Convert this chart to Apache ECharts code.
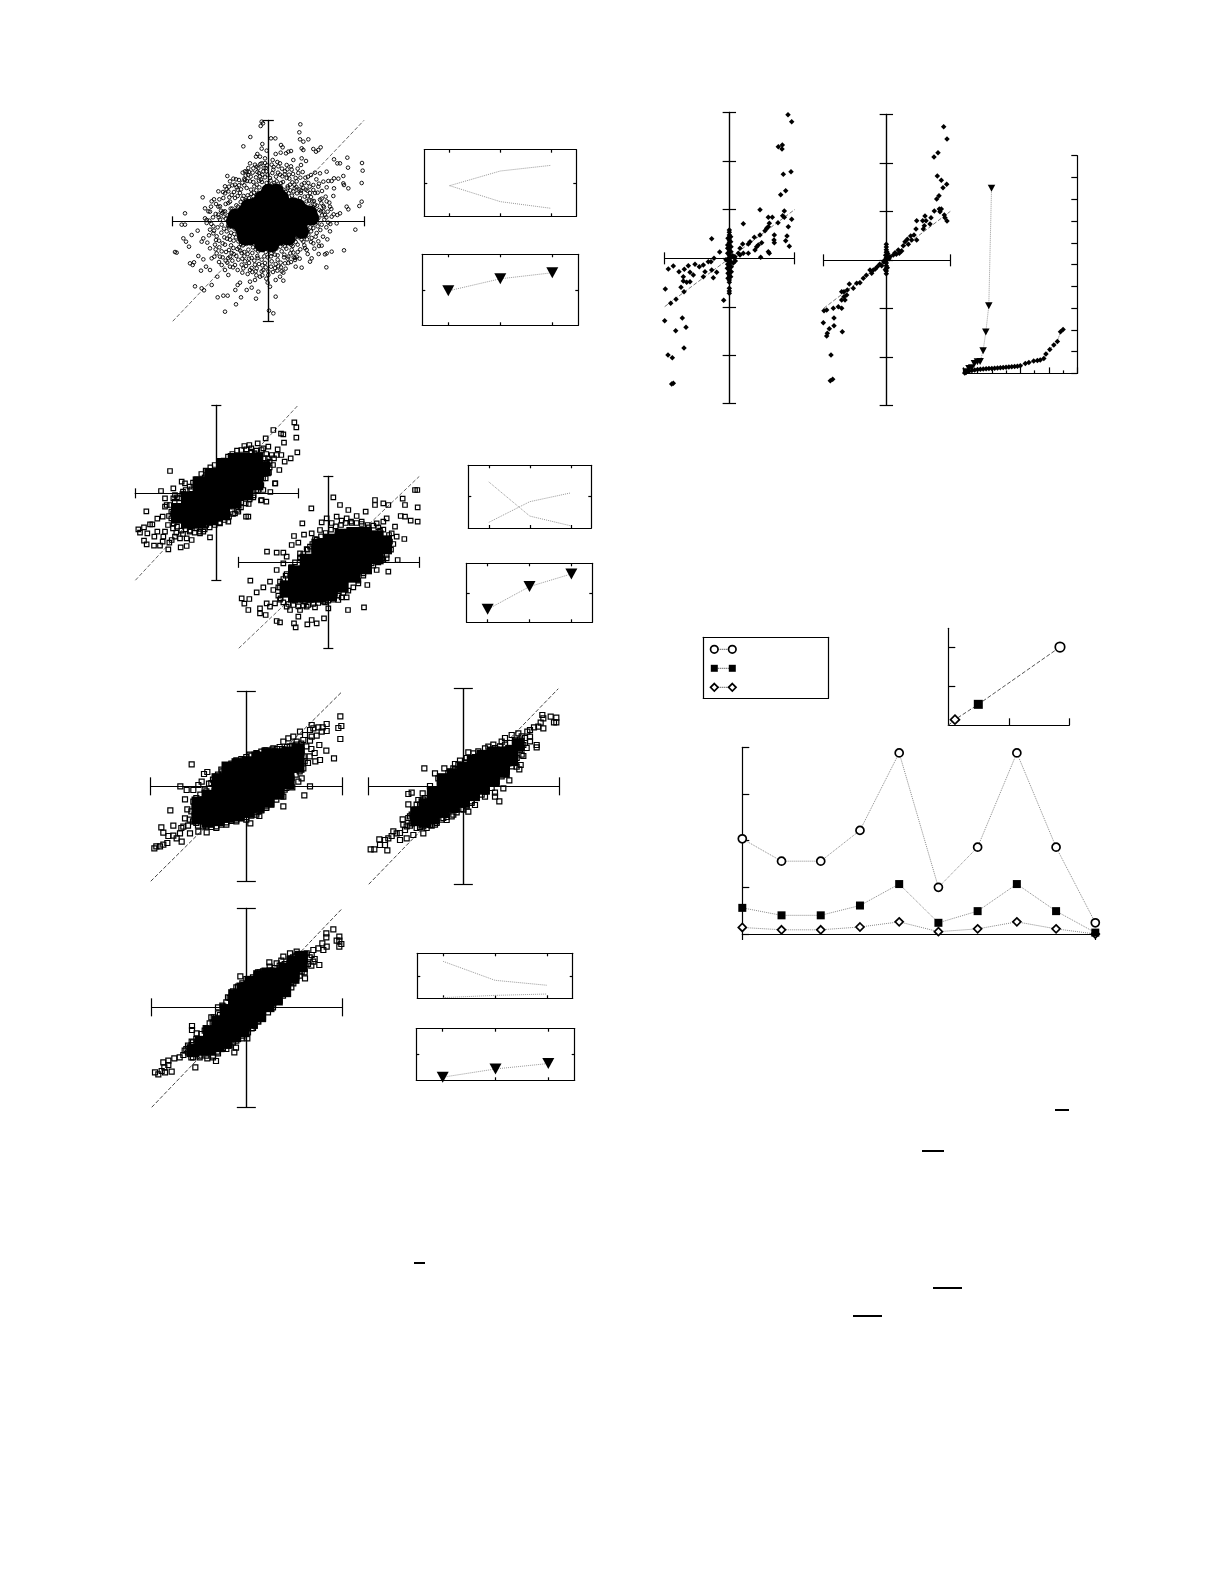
<!DOCTYPE html>
<html><head><meta charset="utf-8">
<script src="https://cdn.jsdelivr.net/npm/echarts@6/dist/echarts.min.js"></script>
<style>html,body{margin:0;padding:0;background:#fff}#c{width:1225px;height:1585px}</style>
</head><body><div id="c"></div>
<script>
// ---- scatter A (offsets from the cross-hair centre)
const aOuter=[[96,291],[93,267],[-20,299],[-16,294],[-23,286],[8,249],[21,249],[-54,253],[-75,225],[95,246],[105,239],[120,246],[-18,232],[-20,218],[38,229],[43,222],[100,219],[105,214],[135,217],[157,222],[150,214],[143,209],[60,209],[68,211],[53,204],[37,206],[22,202],[-5,212],[-33,202],[-37,194],[-25,194],[-10,189],[-20,174],[100,189],[113,181],[98,169],[75,184],[55,169],[35,174],[197,186],[237,191],[215,174],[207,174],[239,161],[281,175],[283,152],[280,115],[225,136],[210,128],[197,129],[175,149],[155,144],[140,146],[180,121],[190,121],[165,119],[225,114],[227,109],[240,99],[197,99],[175,102],[150,104],[135,94],[195,76],[235,44],[240,36],[273,46],[280,59],[160,68],[165,46],[185,44],[215,24],[207,19],[190,14],[170,19],[205,-6],[180,-4],[261,-25],[177,-54],[160,-73],[227,-87],[190,-91],[175,-96],[170,-99],[151,-98],[130,-111],[125,-121],[100,-139],[174,-138],[115,-86],[105,-61],[135,-66],[85,-106],[75,-94],[60,-106],[50,-126],[80,-116],[45,-154],[35,-166],[22,-176],[45,-178],[5,-196],[22,-226],[2,-268],[15,-276],[-2,-184],[0,-161],[-130,-271],[-97,-249],[-152,-228],[-135,-223],[-122,-223],[-82,-228],[-37,-232],[-30,-211],[-65,-206],[-50,-199],[-92,-191],[-99,-206],[-85,-184],[-55,-181],[-40,-176],[-25,-166],[-193,-207],[-200,-201],[-220,-195],[-170,-191],[-153,-166],[-120,-161],[-130,-146],[-140,-131],[-175,-146],[-187,-136],[-202,-148],[-223,-123],[-235,-126],[-227,-131],[-210,-104],[-195,-114],[-170,-111],[-275,-94],[-280,-92],[-238,-76],[-247,-61],[-255,-51],[-230,-41],[-212,-28],[-260,-10],[-250,-10],[-185,4],[-177,2],[-190,9],[-250,24],[-190,39],[-175,29],[-197,72],[-163,66],[-150,44],[-135,29],[-123,136],[-105,128],[-88,124],[-77,146],[-65,149],[-70,124],[-95,102],[-125,96],[-130,84],[-110,79],[-115,59],[-55,174],[-45,159],[-60,139],[-35,164],[-195,-51],[-183,-64],[-157,-56],[-165,-36],[-200,-61],[-175,-81],[-155,-96],[-115,-106],[-100,-131],[-75,-141],[-55,-146],[-35,-141],[-15,-146],[-115,-136],[-145,-106]];
const aRing=[[-150,20],[-140,-10],[-130,30],[-125,-30],[-120,55],[-115,-55],[-110,15],[-105,-80],[-100,70],[-95,-15],[-90,-60],[-85,85],[-80,-95],[-75,50],[-70,-120],[-65,100],[-60,-85],[-55,120],[-50,-110],[-45,75],[-40,-130],[-35,110],[-30,-90],[-25,135],[-20,-115],[-15,150],[-10,-125],[-5,115],[5,130],[10,-120],[15,155],[20,-100],[25,120],[30,-135],[35,140],[40,-90],[45,95],[50,-75],[55,130],[60,-60],[65,110],[70,-85],[75,90],[80,-50],[85,120],[90,-30],[95,70],[100,-55],[105,100],[110,-15],[115,60],[120,-40],[125,85],[130,25],[135,-20],[140,50],[145,-35],[150,10],[155,65],[160,-10],[-165,-15],[-155,-45],[-145,45],[-135,70],[-130,-70],[-120,90],[-110,-95],[-100,110],[-90,-115],[-80,-130],[-70,150],[-60,160],[-50,-140],[-40,170],[-30,160],[-20,-150],[-10,175],[0,-150],[10,170],[20,-140],[30,165],[40,-150],[50,150],[60,-125],[70,155],[80,-110],[90,145],[100,110],[110,-80],[120,115],[130,-50],[140,85],[150,-60],[165,30],[175,60],[185,-30],[-175,-25],[-180,30],[-185,-5],[-170,60],[-160,-70],[-150,90],[-140,-90],[-130,105],[-120,-110],[-115,120],[-128,8],[-118,-18],[-108,38],[-102,-38],[-96,48],[-88,-78],[-82,22],[-78,68],[-72,-105],[-66,-68],[-62,78],[-52,95],[-48,-95],[-42,105],[-32,-110],[-22,125],[-12,-105],[-2,140],[8,-105],[18,115],[28,-115],[38,115],[48,-100],[58,105],[68,-70],[78,110],[88,-70],[98,85],[108,-45],[118,75],[128,-30],[138,35],[148,-15],[158,30],[168,5],[-145,5],[-138,25],[-132,-48],[-112,-72],[-92,95],[-72,128],[-58,-125],[-38,-150],[-28,145],[-8,160],[12,145],[42,135],[62,140],[82,130],[112,95],[132,60]];
const aDense=[[12,96],[18,108],[7,122],[23,134],[31,92],[37,104],[44,118],[29,146],[16,163],[52,88],[58,100],[66,93],[49,141],[63,128],[72,117],[79,99],[86,84],[93,96],[74,142],[57,156],[41,158],[27,178],[13,184],[68,165],[88,158],[96,131],[108,115],[117,92],[128,73],[137,61],[146,47],[124,104],[111,131],[103,148],[119,134],[135,109],[148,86],[159,54],[167,42],[178,29],[172,74],[161,91],[152,113],[144,126],[128,139],[189,37],[196,21],[183,56],[122,62],[134,42],[153,34],[143,18],[161,18],[174,12],[127,47],[109,74],[98,92],[84,103],[71,77],[61,84],[47,81],[38,88],[22,84],[9,85],[4,108],[-3,96],[-7,104],[-13,93],[-19,118],[-27,102],[-36,93],[-43,86],[-51,82],[-58,70],[-67,64],[-74,76],[-83,58],[-91,44],[-98,33],[-106,24],[-113,38],[-122,18],[-134,14],[-142,32],[-149,12],[-158,22],[-166,12],[-172,44],[-128,52],[-117,72],[-103,88],[-92,76],[-82,96],[-72,108],[-64,121],[-53,134],[-45,118],[-37,132],[-28,122],[-18,140],[-10,132],[-6,150],[-47,146],[-58,148],[-68,137],[-78,116],[-88,108],[-97,126],[-108,108],[-118,104],[-136,88],[-147,66],[-157,52],[-24,172],[-14,160],[-4,168],[-33,148],[-92,-28],[-101,-22],[-112,-34],[-121,-14],[-133,-22],[-141,-34],[-152,-18],[-163,-28],[-171,-8],[-178,-42],[-148,-58],[-137,-66],[-124,-52],[-116,-44],[-104,-58],[-97,-48],[-88,-46],[-82,-68],[-93,-83],[-104,-98],[-118,-86],[-127,-92],[-137,-108],[-147,-78],[-158,-84],[-123,-124],[-108,-118],[-96,-104],[-84,-88],[-76,-72],[-68,-56],[-62,-98],[-72,-92],[-78,-112],[-67,-134],[-58,-112],[-46,-78],[-52,-66],[-38,-84],[-33,-104],[-26,-78],[-17,-86],[-8,-92],[-2,-108],[-42,-118],[-28,-128],[-18,-132],[-8,-138],[-48,-152],[-36,-162],[-18,-162],[-6,-172],[-62,-158],[-78,-154],[-92,-146],[-106,-138],[-128,-118],[-162,-106],[-148,-122],[4,-84],[9,-96],[16,-88],[24,-82],[28,-102],[36,-76],[43,-68],[54,-82],[47,-108],[37,-124],[22,-128],[8,-136],[14,-152],[27,-148],[38,-138],[52,-142],[58,-112],[66,-96],[73,-74],[82,-62],[92,-48],[102,-38],[114,-28],[126,-18],[136,-6],[147,-2],[156,-26],[142,-46],[128,-62],[116,-54],[108,-72],[96,-84],[88,-92],[76,-108],[68,-122],[82,-136],[94,-112],[118,-98],[138,-82],[152,-74],[164,-46],[174,-18],[186,-8],[122,-4],[112,-8]];
const aCore=[[-20,-70],[10,-70],[-55,-50],[-25,-50],[5,-50],[35,-50],[-75,-30],[-50,-30],[-20,-30],[10,-30],[40,-30],[65,-30],[-85,-10],[-55,-10],[-25,-10],[5,-10],[35,-10],[65,-10],[95,-10],[-85,10],[-55,10],[-25,10],[5,10],[35,10],[65,10],[95,10],[115,10],[-70,30],[-40,30],[-10,30],[20,30],[50,30],[80,30],[105,30],[-40,50],[-10,50],[20,50],[50,50],[75,50],[-20,70],[10,70],[40,70],[0,90],[25,90],[-105,0],[-100,15],[125,25],[130,10],[100,-30],[90,45],[-60,45],[60,-50],[-70,-50]];
// ---- scatter B
const bOuter=[[234,213],[240,198],[240,167],[243,123],[223,105],[205,95],[189,70],[177,30],[162,4],[150,-25],[134,-21],[171,190],[194,179],[201,177],[203,152],[148,165],[124,150],[99,145],[84,142],[184,132],[195,115],[173,105],[181,115],[166,115],[141,135],[156,140],[136,130],[-139,67],[-166,7],[-210,-54],[-177,-76],[-161,-70],[-154,-15],[-129,15],[-104,35],[-94,30],[-149,-35],[-154,-40],[-139,-35],[-129,-15],[-124,-5],[-234,-108],[-229,-118],[-217,-102],[-207,-120],[-199,-93],[-192,-93],[-186,-130],[-217,-142],[-209,-153],[-187,-157],[-169,-157],[-161,-145],[-144,-168],[-107,-162],[-89,-158],[-134,-140],[-141,-148],[-124,-130],[-159,-130],[-177,-115],[-154,-115],[-109,-135],[-89,-135],[-74,-140],[-49,-120],[-19,-132],[-39,-115],[11,-90],[36,-85],[89,-70],[96,-70],[56,-60],[66,-55],[97,-32],[111,-12],[136,-20],[141,10],[176,30],[158,62],[170,85],[150,90],[142,60],[128,48],[115,120],[105,125],[90,115],[62,105],[45,100],[15,85],[-15,60],[-35,48],[-60,30],[-75,12],[-100,5],[-118,-12],[-135,-55],[-142,-68],[-145,-95],[-130,-105],[-120,-118],[-100,-122],[-80,-115],[-60,-105],[-30,-95],[-5,-75],[20,-55],[50,-40],[75,-28],[120,10],[130,30],[140,45],[148,75],[155,105],[125,95],[110,105]];
const bFringe=[[-130,-60],[-135,-75],[-128,-90],[-118,-100],[-105,-112],[-92,-108],[-78,-112],[-65,-118],[-50,-115],[-35,-108],[-20,-102],[-5,-95],[10,-88],[25,-80],[38,-70],[50,-62],[62,-50],[74,-42],[88,-30],[100,-18],[112,-6],[125,8],[135,25],[148,45],[155,60],[160,78],[-125,-25],[-112,-15],[-102,-2],[-92,10],[-80,20],[-70,32],[-58,42],[-45,58],[-32,68],[-18,78],[-5,85],[8,92],[22,98],[35,110],[48,118],[62,128],[75,130],[90,132],[105,135],[120,128],[132,115],[145,105],[160,95],[150,118]];
const bCore=[[-115,-70],[-115,-50],[-85,-85],[-85,-50],[-85,-15],[-50,-85],[-50,-50],[-50,-15],[-50,20],[-50,30],[-15,-75],[-15,-40],[-15,-5],[-15,30],[-15,55],[20,-60],[20,-25],[20,10],[20,45],[20,85],[55,-25],[55,10],[55,45],[55,80],[55,100],[90,0],[90,35],[90,70],[90,100],[120,30],[120,65],[120,100],[140,75]];
// ---- scatter C
const cOuter=[[15,195],[-51,162],[-78,117],[-103,79],[-184,32],[-234,-55],[-260,-108],[-237,-110],[-252,-124],[-240,-143],[-205,-153],[-188,-158],[-215,-90],[-195,-75],[-155,29],[-135,29],[-110,52],[-90,59],[-73,83],[-50,87],[35,172],[60,157],[85,139],[112,152],[140,187],[140,172],[165,177],[180,172],[223,191],[230,172],[260,217],[267,217],[268,165],[268,122],[247,125],[217,139],[230,137],[200,107],[190,87],[205,77],[228,70],[185,62],[160,12],[175,12],[208,7],[130,-3],[145,-23],[180,-28],[105,-33],[90,-63],[117,-68],[40,-105],[55,-105],[30,-113],[59,-143],[107,-135],[0,-138],[-13,-168],[-35,-183],[-50,-173],[-63,-186],[-103,-183],[-98,-195],[-155,-176],[-145,-180],[-90,-163],[-115,-143],[-85,-143],[-65,-133],[-175,-133],[-160,-123],[-185,-123],[-205,-138],[-143,-108],[-125,-133],[-145,-58],[-165,-83],[-175,-58],[-155,-23],[-135,-3],[-125,17],[-85,27],[-55,47],[-25,97],[-5,132],[25,137],[55,132],[100,122],[165,122],[175,132],[145,117],[-20,120],[10,118],[40,125],[70,118],[120,105],[155,95],[178,60],[150,35],[120,20],[95,-10],[75,-40],[50,-75],[20,-95],[-10,-120],[-40,-135],[-70,-118],[-100,-115],[-130,-95],[-150,-75],[-128,-40],[-110,-15],[-85,15],[-65,40],[-40,70]];
const cFringe=[[-150,-100],[-145,-112],[-135,-120],[-120,-125],[-105,-128],[-90,-132],[-75,-130],[-60,-128],[-45,-125],[-30,-122],[-15,-118],[0,-115],[15,-112],[30,-100],[45,-92],[60,-85],[75,-75],[90,-55],[105,-40],[120,-22],[135,-10],[150,0],[165,8],[175,22],[188,38],[195,55],[-145,-75],[-135,-50],[-125,-35],[-112,-15],[-100,0],[-85,12],[-75,25],[-62,38],[-48,55],[-35,68],[-22,78],[-8,88],[8,98],[22,108],[38,112],[52,118],[68,122],[85,118],[100,115],[118,112],[135,110],[150,105],[165,98],[182,82]];
const cCore=[[-125,-85],[-125,-75],[-100,-100],[-100,-65],[-100,-30],[-65,-100],[-65,-65],[-65,-30],[-65,5],[-30,-100],[-30,-65],[-30,-30],[-30,5],[-30,30],[-30,50],[5,-95],[5,-60],[5,-25],[5,10],[5,45],[5,65],[40,-70],[40,-35],[40,0],[40,35],[40,70],[40,80],[75,-40],[75,-5],[75,30],[75,65],[75,85],[110,-15],[110,20],[110,55],[110,85],[145,15],[145,50],[145,75],[170,45],[170,60]];
// ---- scatter D
const dOuter=[[282,210],[285,181],[276,175],[282,142],[241,187],[229,177],[216,177],[201,174],[191,169],[241,166],[226,164],[211,152],[196,149],[240,107],[263,84],[221,79],[207,75],[219,124],[191,137],[171,139],[151,134],[126,144],[166,109],[171,54],[166,24],[156,14],[191,0],[138,-3],[174,-27],[111,-31],[111,-60],[69,-51],[39,-89],[12,-111],[36,-76],[11,-81],[-164,66],[-117,43],[-127,37],[-198,0],[-179,-11],[-184,-39],[-159,-46],[-177,-69],[-228,-72],[-184,-96],[-219,-118],[-255,-123],[-249,-139],[-234,-149],[-219,-148],[-199,-141],[-194,-166],[-209,-156],[-237,-170],[-249,-175],[-259,-180],[-270,-180],[-276,-186],[-169,-141],[-144,-136],[-119,-138],[-189,-121],[-159,-11],[-144,4],[-134,14],[-89,29],[-54,64],[-9,81],[31,97],[81,114],[111,134],[141,149],[161,164],[176,154],[196,184],[-150,-110],[-165,-75],[-170,-100],[-130,-40],[-120,-15],[-105,10],[-75,50],[-30,75],[10,95],[55,108],[100,118],[130,120],[150,100],[172,90],[185,70],[150,60],[135,25],[115,-10],[85,-30],[60,-65],[30,-85],[0,-100],[-30,-105],[-60,-115],[-90,-125],[-120,-120]];
const dFringe=[[-150,-35],[-138,-25],[-125,-10],[-112,8],[-100,20],[-85,35],[-72,45],[-60,60],[-45,68],[-30,78],[-15,82],[0,88],[15,92],[30,100],[45,104],[60,108],[78,110],[92,112],[108,112],[122,118],[138,122],[150,125],[165,128],[180,120],[195,112],[205,100],[190,90],[175,75],[160,45],[148,35],[135,15],[120,-5],[105,-25],[90,-40],[75,-52],[60,-60],[45,-72],[30,-78],[15,-88],[0,-92],[-15,-96],[-30,-100],[-45,-104],[-60,-108],[-75,-115],[-90,-120],[-105,-122],[-130,-120],[-145,-118],[-160,-105],[-175,-118],[-195,-125]];
const dCore=[[-145,-95],[-145,-70],[-145,-50],[-115,-105],[-115,-80],[-115,-55],[-115,-30],[-85,-100],[-85,-75],[-85,-50],[-85,-25],[-85,0],[-85,20],[-55,-90],[-55,-65],[-55,-40],[-55,-15],[-55,10],[-55,35],[-55,55],[-25,-85],[-25,-60],[-25,-35],[-25,-10],[-25,15],[-25,40],[-25,65],[5,-75],[5,-50],[5,-25],[5,0],[5,25],[5,50],[5,70],[35,-60],[35,-35],[35,-10],[35,15],[35,40],[35,65],[35,85],[65,-45],[65,-20],[65,5],[65,30],[65,55],[65,80],[65,95],[95,-20],[95,5],[95,30],[95,55],[95,80],[95,95],[125,10],[125,35],[125,60],[125,85],[125,100],[155,60],[155,85],[155,110]];
// ---- scatter E
const eOuter=[[237,214],[262,209],[279,206],[279,192],[272,192],[240,204],[232,191],[225,179],[240,174],[212,177],[192,164],[220,124],[220,117],[180,91],[172,64],[168,51],[130,44],[138,18],[120,-6],[95,-19],[95,-31],[108,-45],[65,-31],[35,-56],[15,-76],[15,102],[30,99],[-10,77],[-25,67],[-30,54],[-57,54],[-117,54],[-85,39],[-75,24],[-100,1],[-122,-21],[-155,-19],[-165,-23],[-135,-41],[-165,-54],[-145,-79],[-182,-99],[-155,-111],[-215,-149],[-225,-156],[-252,-159],[-235,-161],[-250,-176],[-235,-176],[-278,-189],[-267,-189],[-228,-192],[-190,-161],[-170,-156],[-150,-146],[-120,-141],[-100,-116],[-50,-101],[-25,-71],[-200,-141],[-175,-131],[160,59],[150,84],[135,69],[180,124],[200,149],[165,159],[145,154],[115,134],[75,119],[65,114],[200,169],[-170,-120],[-160,-90],[-140,-55],[-120,-40],[-95,-10],[-70,15],[-45,40],[-15,65],[10,85],[45,105],[90,125],[125,145],[175,150],[185,130],[170,110],[155,100],[130,80],[100,45],[85,10],[55,-15],[25,-45],[0,-70],[-30,-85],[-60,-95],[-85,-115],[-120,-120],[-140,-125],[-190,-140],[-210,-135]];
const eFringe=[[-165,-95],[-155,-85],[-145,-70],[-130,-55],[-115,-35],[-100,-25],[-85,-8],[-70,5],[-55,28],[-40,42],[-25,50],[-10,62],[5,72],[20,85],[35,88],[50,95],[65,100],[80,108],[95,115],[110,120],[125,125],[140,130],[155,138],[170,140],[185,145],[200,135],[190,115],[175,95],[160,85],[145,60],[130,50],[115,30],[100,15],[85,-5],[70,-15],[55,-25],[40,-35],[25,-50],[10,-60],[-5,-68],[-20,-78],[-35,-90],[-50,-92],[-65,-100],[-80,-110],[-95,-118],[-110,-125],[-130,-122],[-160,-118],[-180,-115]];
const eCore=[[-140,-100],[-140,-80],[-115,-105],[-115,-80],[-115,-55],[-90,-95],[-90,-70],[-90,-45],[-90,-20],[-60,-75],[-60,-50],[-60,-25],[-60,0],[-60,20],[-30,-60],[-30,-35],[-30,-10],[-30,15],[-30,35],[0,-45],[0,-20],[0,5],[0,30],[0,55],[30,-25],[30,0],[30,25],[30,50],[30,75],[60,-5],[60,20],[60,45],[60,70],[60,90],[90,20],[90,45],[90,70],[90,100],[120,45],[120,70],[120,100],[145,80],[145,105],[165,125]];
// ---- scatter F
const fOuter=[[261,234],[240,222],[240,210],[279,212],[279,200],[285,190],[279,182],[271,200],[228,192],[241,182],[231,172],[216,177],[201,172],[196,157],[181,162],[219,127],[201,137],[171,117],[176,87],[146,82],[131,162],[111,152],[151,167],[69,135],[91,132],[31,97],[-18,93],[-9,67],[-29,42],[-69,2],[-79,-23],[-101,-48],[-163,-56],[-163,-68],[-149,-78],[-164,-103],[-164,-113],[-189,-143],[-216,-153],[-234,-160],[-249,-165],[-234,-173],[-246,-180],[-224,-193],[-244,-195],[-264,-201],[-274,-195],[-254,-191],[-153,-180],[-117,-153],[-91,-161],[-87,-133],[-36,-135],[-31,-121],[-14,-93],[3,-93],[16,-63],[36,-43],[81,12],[81,22],[121,52],[141,72],[166,107],[-175,-135],[-180,-125],[-200,-150],[-165,-150],[-140,-150],[-120,-130],[-145,-95],[-125,-70],[-105,-30],[-85,0],[-55,30],[-30,60],[0,85],[40,105],[70,122],[105,140],[140,150],[165,150],[185,130],[160,95],[135,60],[110,35],[65,-5],[45,-25],[25,-55],[0,-75],[-30,-100],[-60,-125],[-100,-145]];
const fFringe=[[-185,-130],[-175,-115],[-160,-105],[-150,-95],[-135,-80],[-122,-62],[-110,-48],[-98,-30],[-85,-18],[-72,5],[-60,15],[-50,28],[-40,48],[-25,62],[-12,72],[5,82],[20,90],[35,105],[50,108],[70,110],[85,118],[100,125],[115,130],[130,140],[150,155],[175,160],[190,150],[205,145],[195,125],[175,105],[150,90],[135,75],[115,40],[100,20],[80,0],[65,-15],[50,-30],[35,-40],[20,-62],[5,-75],[-12,-85],[-25,-92],[-40,-105],[-55,-115],[-70,-122],[-85,-138],[-100,-150],[-120,-145],[-140,-145],[-160,-150]];
const fCore=[[-160,-130],[-135,-125],[-135,-105],[-110,-125],[-110,-100],[-110,-75],[-85,-115],[-85,-90],[-85,-65],[-85,-45],[-60,-105],[-60,-80],[-60,-55],[-60,-30],[-60,-10],[-35,-85],[-35,-60],[-35,-35],[-35,-10],[-35,15],[-35,35],[-10,-70],[-10,-45],[-10,-20],[-10,5],[-10,30],[-10,55],[15,-45],[15,-20],[15,5],[15,30],[15,55],[15,75],[40,-25],[40,0],[40,25],[40,50],[40,75],[40,92],[65,5],[65,30],[65,55],[65,80],[65,100],[90,25],[90,50],[90,75],[90,100],[115,50],[115,75],[115,100],[115,115],[140,90],[140,110],[140,135],[165,125],[165,150]];
// ---- scatter G and H
const gPoints=[[176,431],[187,410],[147,335],[159,340],[158,328],[162,252],[185,260],[169,203],[154,191],[165,142],[92,146],[117,123],[129,123],[120,105],[146,107],[160,128],[165,123],[187,117],[177,95],[42,104],[112,90],[117,95],[107,83],[135,70],[134,55],[135,47],[173,67],[169,53],[180,36],[75,63],[92,70],[62,50],[57,43],[40,43],[32,30],[82,35],[87,40],[77,25],[97,47],[94,3],[117,20],[120,15],[57,15],[42,15],[27,15],[17,5],[32,10],[-53,59],[-29,19],[-46,0],[-55,-10],[-63,-10],[-78,-20],[-103,-18],[-90,-25],[-123,-22],[-168,-23],[-183,-32],[-151,-40],[-135,-33],[-118,-42],[-108,-50],[-138,-55],[-78,-55],[-73,-40],[-53,-35],[-38,-42],[-48,-58],[-118,-70],[-128,-72],[-138,-68],[-145,-87],[-136,-100],[-192,-92],[-160,-123],[-176,-135],[-17,-126],[-194,-187],[-141,-179],[-130,-207],[-161,-217],[-136,-269],[-184,-290],[-171,-298],[-168,-375],[-173,-377],[0,85],[0,78],[0,70],[0,62],[0,55],[0,48],[0,40],[0,33],[0,25],[0,18],[0,10],[0,3],[0,-5],[0,-12],[0,-20],[0,-27],[0,-35],[0,-42],[0,-50],[0,-57],[0,-65],[0,-72],[0,-90],[0,-98],[0,-105],[5,20],[-5,15],[5,-10],[-6,-5],[6,-25],[-6,-30],[5,5],[-5,40],[4,50],[4,65],[-4,60],[-5,30],[5,35],[-5,-18],[6,-40],[-4,-45],[4,-55],[-4,-60],[10,8],[-10,-4],[14,2],[18,-8],[12,-14]];
const hPoints=[[172,401],[182,364],[155,323],[143,310],[153,253],[165,240],[181,228],[170,218],[158,194],[151,184],[144,148],[159,154],[165,154],[161,146],[174,136],[176,128],[182,118],[116,133],[91,119],[109,119],[119,119],[134,128],[131,109],[114,104],[111,94],[89,94],[83,76],[73,73],[63,63],[76,61],[91,61],[56,56],[51,44],[36,31],[26,23],[39,21],[11,11],[21,16],[-14,-16],[-27,-19],[-39,-29],[-49,-29],[-44,-39],[-69,-54],[-79,-67],[-89,-69],[-99,-84],[-111,-71],[-117,-89],[-127,-94],[-134,-94],[-119,-104],[-127,-109],[-134,-119],[-124,-119],[-144,-139],[-134,-144],[-179,-149],[-187,-151],[-159,-144],[-189,-187],[-157,-173],[-171,-205],[-157,-196],[-132,-214],[-177,-219],[-179,-227],[-166,-284],[-161,-357],[-168,-361],[0,48],[0,40],[0,32],[0,24],[0,16],[0,8],[0,0],[0,-8],[0,-16],[0,-24],[0,-32],[0,-40],[2,25],[-2,15],[3,10],[-3,-5],[-8,-5],[8,5],[3,-22],[-3,-28],[4,20],[-4,2],[30,18],[46,28],[66,48],[-20,-12],[-33,-26],[-60,-45]];
// ---- rank plot I
const iTriangleX=[0.19,0.4,0.59,0.78,0.99,1.18,1.39,1.58,1.79,1.98];
const iTriangleY=[0.08,0.23,0.26,0.46,0.54,0.55,1.04,1.9,3.11,8.5];
const iCurveX=[0.1,0.2,0.4,0.6,0.8,1,1.2,1.4,1.6,1.8,2,2.2,2.4,2.6,2.8,3,3.2,3.4,3.6,3.8,4,4.35,4.6,4.94,5.2,5.4,5.65,5.8,6.07,6.35,6.6,6.82,7];
const iCurveY=[0.02,0.05,0.1,0.13,0.16,0.18,0.19,0.2,0.21,0.22,0.23,0.24,0.25,0.26,0.27,0.28,0.29,0.31,0.32,0.33,0.35,0.46,0.5,0.57,0.59,0.61,0.69,0.89,1.1,1.3,1.47,1.91,2.02];
// ---- small boxes (x is always 1,2,3)
const boxX=[1,2,3];
const a1Up=[0.92,1.36,1.53], a1Down=[0.92,0.44,0.24], a2Marks=[0.97,1.31,1.48];
const b1Down=[1.47,0.38,0.07], b1Up=[0.18,0.84,1.12], b2Marks=[0.44,1.21,1.64];
const f1Down=[1.64,0.8,0.58], f1Up=[0.03,0.13,0.19], f2Marks=[0.12,0.44,0.65];
// ---- line chart J
const jX=[0,1,2,3,4,5,6,7,8,9];
const jCircles=[2.04,1.56,1.56,2.22,3.88,1.0,1.86,3.88,1.86,0.24];
const jSquares=[0.56,0.4,0.4,0.61,1.07,0.24,0.49,1.07,0.49,0.03];
const jDiamonds=[0.14,0.09,0.09,0.15,0.26,0.05,0.11,0.26,0.11,0.0];
// ---- inset K
const kX=[0,0.11,0.496,1.846];
const kY=[0,0.145,0.536,2.0];
// ---- legend swatches
const legendX=[11,29];
const legendLevels=[49,30,11];

const zip=(xs,ys)=>xs.map((x,i)=>[x,ys[i]]);
const grids=[],xAxes=[],yAxes=[],series=[];
const INK='#000', W=1.2;
const base={type:'value',splitLine:{show:false},axisLabel:{show:false},axisPointer:{show:false}};
const lineS={show:true,lineStyle:{color:INK,width:W}};
function addGrid(l,t,w,h){grids.push({left:l,top:t,width:w,height:h,containLabel:false,show:false});return grids.length-1;}

function cross(ox,oy,x0,x1,cx,y0,y1,cy,xCap,yCap,yTicks){
  const g=addGrid(ox+x0/3,oy+y0/3,(x1-x0)/3,(y1-y0)/3);
  const xi=xAxes.length, yi=yAxes.length;
  const xTickVals=[x0-cx,0,x1-cx];
  const yTickVals=yTicks||[cy-y1,0,cy-y0];
  [true,false].forEach((inside,k)=>{
    xAxes.push({...base,gridIndex:g,min:x0-cx,max:x1-cx,position:'bottom',
      axisLine:{...lineS,onZero:true,onZeroAxisIndex:yi+k},
      axisTick:{show:true,inside,length:xCap,customValues:xTickVals,lineStyle:{color:INK,width:W}}});
    yAxes.push({...base,gridIndex:g,min:cy-y1,max:cy-y0,position:'left',
      axisLine:{...lineS,onZero:true,onZeroAxisIndex:xi+k},
      axisTick:{show:true,inside,length:yCap,customValues:yTickVals,lineStyle:{color:INK,width:W}}});
  });
  return {xi,yi};
}
function cloud(p,data,symbol,size,filled,bw){
  series.push({type:'scatter',xAxisIndex:p.xi,yAxisIndex:p.yi,data,symbol,symbolSize:size,silent:true,clip:false,
    itemStyle:filled?{color:INK,opacity:1}:{color:'transparent',borderColor:INK,borderWidth:bw||1.2,opacity:1}});
}
function diag(p,a,b,dash,color){
  series.push({type:'line',xAxisIndex:p.xi,yAxisIndex:p.yi,data:[a,b],showSymbol:false,symbol:'none',silent:true,z:1,
    lineStyle:{color,width:1,type:dash}});
}
function box(l,t,r,b){
  const g=addGrid(l,t,r-l,b-t);
  const xi=xAxes.length, yi=yAxes.length;
  ['bottom','top'].forEach(position=>xAxes.push({...base,gridIndex:g,min:0.5,max:3.5,position,
    axisLine:{...lineS,onZero:false},axisTick:{show:true,inside:true,length:3,customValues:boxX,lineStyle:{color:INK,width:W}}}));
  ['left','right'].forEach(position=>yAxes.push({...base,gridIndex:g,min:0,max:2,position,
    axisLine:{...lineS,onZero:false},axisTick:{show:true,inside:true,length:3,customValues:[1],lineStyle:{color:INK,width:W}}}));
  return {xi,yi};
}
function boxLine(p,vals){
  series.push({type:'line',xAxisIndex:p.xi,yAxisIndex:p.yi,data:zip(boxX,vals),symbol:'none',silent:true,
    lineStyle:{color:'#999',width:1,type:'dotted'}});
}
function boxMarks(p,vals){
  series.push({type:'line',xAxisIndex:p.xi,yAxisIndex:p.yi,data:zip(boxX,vals),symbol:'triangle',symbolRotate:180,symbolSize:[12,11],
    showAllSymbol:true,silent:true,clip:false,itemStyle:{color:INK},lineStyle:{color:'#999',width:1,type:'dotted'}});
}

const pA=cross(130,100,128,703,415,61,664,364,5,5.5);
diag(pA,[-287,-300],[287,303],'dashed','#666');
cloud(pA,aOuter,'circle',3.6,false,0.9); cloud(pA,aRing,'circle',3.6,false,0.9); cloud(pA,aDense,'circle',3.6,false,0.9); cloud(pA,aCore,'circle',15,true);
const a1=box(424.3,149.7,576.3,216.3); boxLine(a1,a1Up); boxLine(a1,a1Down);
const a2=box(422.3,254.3,578.3,325.3); boxMarks(a2,a2Marks);
const pB=cross(120,390,46,535,289,46,571,310,5,5);
diag(pB,[-243,-261],[245,264],'dashed','#666');
cloud(pB,bOuter,'rect',4.5,false); cloud(pB,bFringe,'rect',4.5,false); cloud(pB,bCore,'rect',14,true);
const pC=cross(120,390,356,898,625,259,775,517,5.5,5);
diag(pC,[-269,-258],[273,258],'dashed','#666');
cloud(pC,cOuter,'rect',4.5,false); cloud(pC,cFringe,'rect',4.5,false); cloud(pC,cCore,'rect',14,true);
const b1=box(468.3,465.3,591.3,528); boxLine(b1,b1Down); boxLine(b1,b1Up);
const b2=box(466.7,563.3,592.3,622.3); boxMarks(b2,b2Marks);
const pD=cross(130,670,62,637,349,64,634,349,9,9.5);
diag(pD,[-287,-285],[288,285],'dashed','#444');
cloud(pD,dOuter,'rect',5,false); cloud(pD,dFringe,'rect',5,false); cloud(pD,dCore,'rect',13,true);
const pE=cross(130,670,716,1288,1000,56,643,349,9,9.5);
diag(pE,[-284,-294],[285,293],'dashed','#444');
cloud(pE,eOuter,'rect',5,false); cloud(pE,eFringe,'rect',5,false); cloud(pE,eCore,'rect',13,true);
const pF=cross(130,670,65,637,349,715,1312,1012,9,9.5);
diag(pF,[-284,-300],[288,297],'dashed','#444');
cloud(pF,fOuter,'rect',5,false); cloud(pF,fFringe,'rect',5,false); cloud(pF,fCore,'rect',13,true);
const f1=box(417.3,953.3,572.7,998.3); boxLine(f1,f1Down); boxLine(f1,f1Up);
const f2=box(416.3,1028.7,574.7,1080.3); boxMarks(f2,f2Marks);
const pG=cross(640,100,74,463,268,37,910,475,6,6.7,[-435,-291,-147,0,147,291,438]);
diag(pG,[-194,-145],[197,147],'dashed','#777');
cloud(pG,gPoints,'diamond',5.5,true);
const pH=cross(640,100,551,931,739,43,916,481,6,6.7,[-435,-291,-144,0,147,291,438]);
diag(pH,[-188,-144],[192,147],'dashed','#777');
cloud(pH,hPoints,'diamond',5.5,true);
const gi=addGrid(963.3,155.7,114,217.7);
xAxes.push({...base,gridIndex:gi,min:0,max:8,interval:2,position:'bottom',axisLine:{...lineS,onZero:false},
  axisTick:{show:true,inside:true,length:6,lineStyle:{color:INK,width:W}},
  minorTick:{show:true,splitNumber:2,length:3,lineStyle:{color:INK,width:W}}});
yAxes.push({...base,gridIndex:gi,min:0,max:10,interval:1,position:'right',axisLine:{...lineS,onZero:false},
  axisTick:{show:true,inside:true,length:6,lineStyle:{color:INK,width:W}}});
const iX=xAxes.length-1,iY=yAxes.length-1;
series.push({type:'line',xAxisIndex:iX,yAxisIndex:iY,data:zip(iCurveX,iCurveY),symbol:'diamond',symbolSize:5.5,showAllSymbol:true,silent:true,clip:false,itemStyle:{color:INK,opacity:1},lineStyle:{color:'#666',width:1,type:'dotted'}});
series.push({type:'line',xAxisIndex:iX,yAxisIndex:iY,data:zip(iTriangleX,iTriangleY),symbol:'triangle',symbolRotate:180,symbolSize:[7.5,7],showAllSymbol:true,silent:true,clip:false,itemStyle:{color:INK,opacity:1},lineStyle:{color:'#999',width:1,type:'dotted'}});
const gj=addGrid(742.3,747.3,353,186.7);
xAxes.push({...base,gridIndex:gj,min:0,max:9,position:'bottom',axisLine:{...lineS,onZero:false},
  axisTick:{show:true,inside:false,length:6,customValues:[0,9],lineStyle:{color:INK,width:W}}});
yAxes.push({...base,gridIndex:gj,min:0,max:4,interval:1,position:'left',axisLine:{...lineS,onZero:false},
  axisTick:{show:true,inside:true,length:7,lineStyle:{color:INK,width:W}}});
const jXi=xAxes.length-1,jYi=yAxes.length-1;
const hollow={color:'#fff',borderColor:INK,borderWidth:1.7};
const dot={color:'#888',width:1,type:'dotted'};
function jLine(name,vals,symbol,size,style){
  series.push({name,type:'line',xAxisIndex:jXi,yAxisIndex:jYi,data:zip(jX,vals),symbol,symbolSize:size,showAllSymbol:true,silent:true,clip:false,itemStyle:style,lineStyle:dot});
}
jLine('circle',jCircles,'circle',8,hollow);
jLine('diamond',jDiamonds,'diamond',8,hollow);
jLine('square',jSquares,'rect',8,{color:INK});
series.push({type:'scatter',xAxisIndex:jXi,yAxisIndex:jYi,data:[[9,0]],symbol:'triangle',symbolRotate:180,symbolSize:[7,7],silent:true,clip:false,itemStyle:{color:INK,opacity:1}});
const gk=addGrid(948.3,628.3,121,97);
xAxes.push({...base,gridIndex:gk,min:0,max:2,interval:1,position:'bottom',axisLine:{...lineS,onZero:false},
  axisTick:{show:true,inside:true,length:7,customValues:[1,2],lineStyle:{color:INK,width:W}}});
yAxes.push({...base,gridIndex:gk,min:0,max:2.48,position:'left',axisLine:{...lineS,onZero:false},
  axisTick:{show:true,inside:true,length:7,customValues:[1,2],lineStyle:{color:INK,width:W}}});
const kSym=[['none',0,{}],['diamond',9,hollow],['rect',9,{color:INK}],['circle',9.5,hollow]];
series.push({type:'line',xAxisIndex:xAxes.length-1,yAxisIndex:yAxes.length-1,showAllSymbol:true,silent:true,clip:false,
  data:zip(kX,kY).map((v,i)=>({value:v,symbol:kSym[i][0],symbolSize:kSym[i][1],itemStyle:kSym[i][2]})),
  lineStyle:{color:'#555',width:1,type:'dashed'}});
const gl=addGrid(703.3,637.3,125,61);
['bottom','top'].forEach(position=>xAxes.push({...base,gridIndex:gl,min:0,max:125,position,axisLine:{...lineS,onZero:false},axisTick:{show:false}}));
['left','right'].forEach(position=>yAxes.push({...base,gridIndex:gl,min:0,max:61,position,axisLine:{...lineS,onZero:false},axisTick:{show:false}}));
const lx=xAxes.length-1,ly=yAxes.length-1;
[['circle',7.5,hollow],['rect',7,{color:INK}],['diamond',7.5,hollow]].forEach((s,i)=>{
  series.push({type:'line',xAxisIndex:lx,yAxisIndex:ly,data:legendX.map(x=>[x,legendLevels[i]]),symbol:s[0],symbolSize:s[1],showAllSymbol:true,silent:true,itemStyle:s[2],lineStyle:{color:'#222',width:1,type:'dotted'}});
});
const rules=[[414,1262,11],[1055,1109,14],[922,1150,22],[933,1287,29],[853,1315,29]];
const graphic=rules.map(r=>({type:'rect',left:r[0],top:r[1],shape:{width:r[2],height:2},style:{fill:INK},silent:true}));

const chart=echarts.init(document.getElementById('c'),null,{renderer:'canvas'});
chart.setOption({animation:false,backgroundColor:'#fff',grid:grids,xAxis:xAxes,yAxis:yAxes,series,graphic,tooltip:{show:false}});
</script></body></html>
